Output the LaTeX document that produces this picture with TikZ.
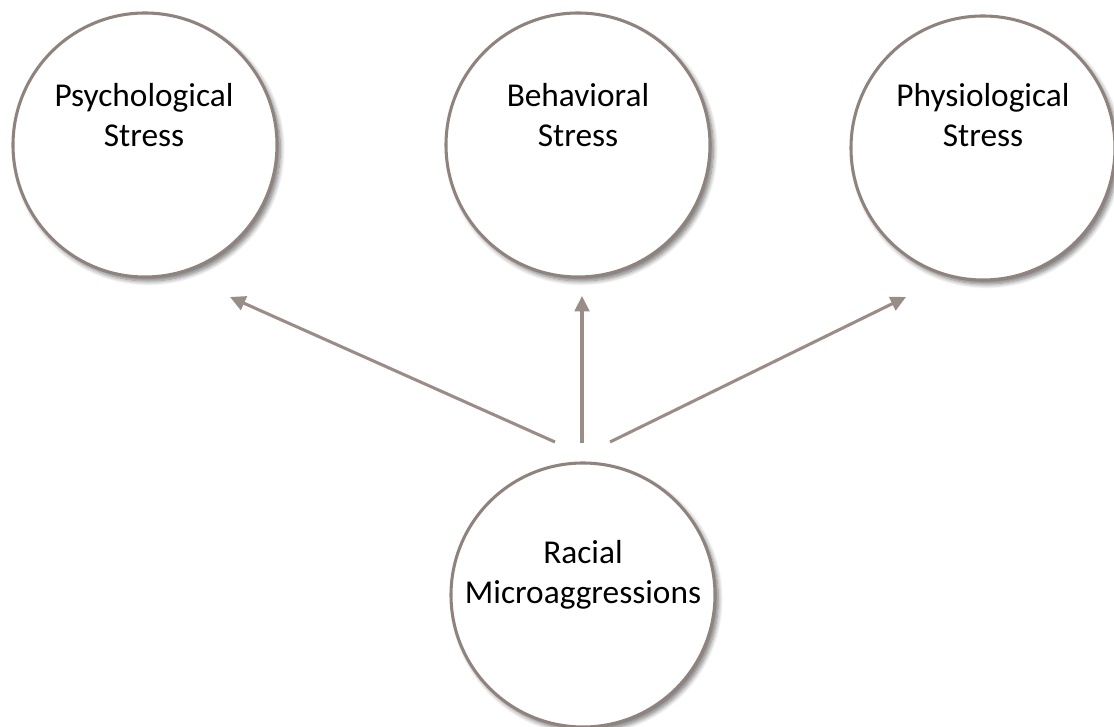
\documentclass[tikz,border=0pt]{standalone}
\usepackage{fontspec}
\setmainfont{Carlito}
\usetikzlibrary{arrows.meta,shadows.blur}
\definecolor{rim}{HTML}{8F837E}
\definecolor{arrowcol}{HTML}{9A8C86}
\tikzset{
  bubble/.style={circle, draw=rim, line width=2.3pt, fill=white,
    minimum size=198pt, inner sep=0pt,
    blur shadow={shadow xshift=2.5pt, shadow yshift=-3pt, shadow blur steps=8,
      shadow blur radius=3.5pt, shadow opacity=55}},
  caption/.style={align=center, font=\fontsize{25pt}{30pt}\selectfont, text=black,
    anchor=base},
  link/.style={draw=arrowcol, line width=2.3pt,
    -{Triangle[length=11.5pt,width=11pt]}}
}
\begin{document}
\begin{tikzpicture}[x=0.75pt,y=-0.75pt]
  \useasboundingbox (0,0) rectangle (1114,727);
  % stress circles
  \node[bubble] (psy) at (145,145) {};
  \node[bubble] (beh) at (578,145) {};
  \node[bubble] (phy) at (983,148) {};
  \node[bubble] (rac) at (583,595) {};
  % captions (anchored at the baseline of the last line)
  \node[caption] (psyt) at (144,147) {Psychological\\Stress};
  \node[caption] (beht) at (578,147) {Behavioral\\Stress};
  \node[caption] (phyt) at (983,147) {Physiological\\Stress};
  \node[caption] (ract) at (583,603) {Racial\\Microaggressions};
  % arrow ends
  \coordinate (s1) at (555,442);
  \coordinate (s2) at (582,443);
  \coordinate (s3) at (610,442);
  \coordinate (e1) at (230,297);
  \coordinate (e2) at (582,296);
  \coordinate (e3) at (906,297);
  \draw[link] (s1) -- (e1);
  \draw[link] (s2) -- (e2);
  \draw[link] (s3) -- (e3);
\end{tikzpicture}
\end{document}
